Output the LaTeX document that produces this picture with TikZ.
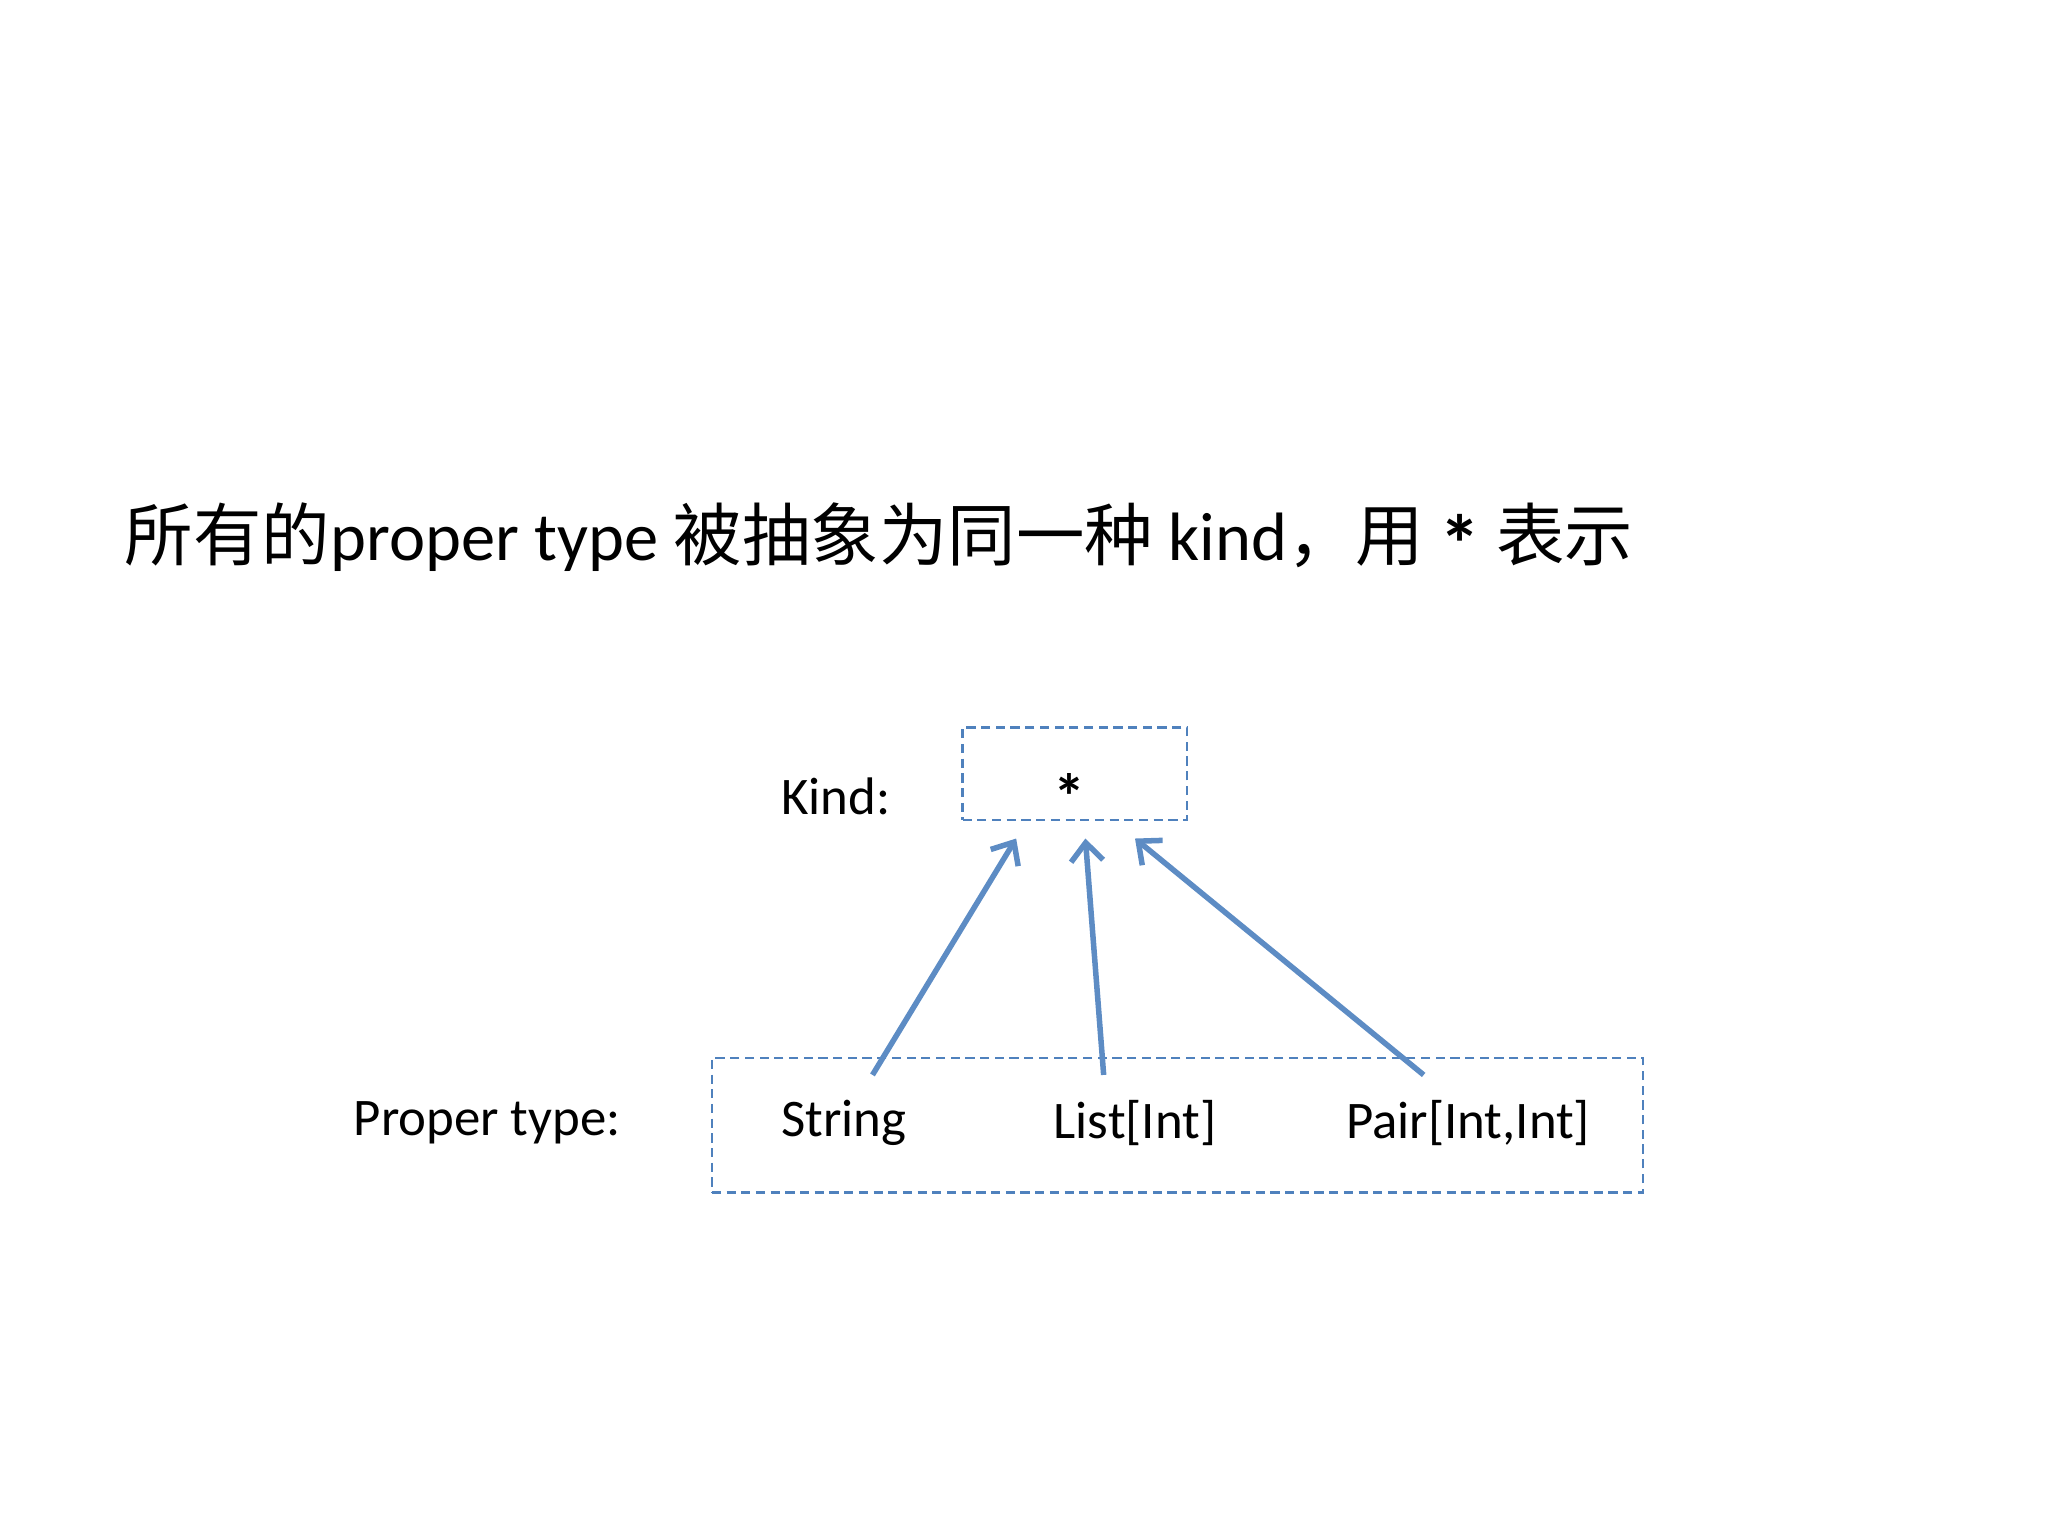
\documentclass[tikz,border=0pt]{standalone}
\usepackage{fontspec}
\setmainfont{Carlito}
\newfontfamily\cjk{Noto Sans CJK SC}
\usetikzlibrary{arrows.meta,fit}
\definecolor{arr}{RGB}{93,140,196}
\definecolor{boxc}{RGB}{79,129,189}
\begin{document}
\begin{tikzpicture}[x=0.01cm,y=-0.01cm,
  dbox/.style={draw=boxc,dash pattern=on 2pt off 1.2pt,line width=0.5pt,inner sep=0pt},
  lbl/.style={font=\fontsize{11.5}{13}\selectfont,inner sep=0pt},
  link/.style={draw=arr,line width=1.2pt,-{Straight Barb[length=4pt,width=7pt]}}]
\useasboundingbox (0,0) rectangle (1568,1176);
\node[anchor=west,inner sep=0pt,font=\fontsize{14.9}{16}\selectfont] (title) at (95,412)
  {{\cjk 所有的}proper type {\cjk 被抽象为同一种} kind{\cjk ，用} {\fontsize{18}{18}\selectfont\bfseries\raisebox{-0.15em}{*}} {\cjk 表示}};
\coordinate (k1) at (737,557); \coordinate (k2) at (909,628);
\node[dbox,fit=(k1)(k2)] (kbox) {};
\node[lbl,font=\fontsize{14}{15}\selectfont\bfseries] (star) at (819,610) {*};
\node[lbl] (kind) at (640,610) {Kind:};
\coordinate (b1) at (545,810); \coordinate (b2) at (1258,913);
\node[dbox,fit=(b1)(b2)] (pbox) {};
\node[lbl] (pt) at (373,860) {Proper type:};
\node[lbl] (s) at (646,860) {String};
\node[lbl] (l) at (869,860) {List[Int]};
\node[lbl] (p) at (1124,860) {Pair[Int,Int]};
\coordinate (s1) at (668,823); \coordinate (s2) at (778,642);
\coordinate (l1) at (845,823); \coordinate (l2) at (831,642);
\coordinate (p1) at (1090,823); \coordinate (p2) at (869,642);
\draw[link] (s1) -- (s2);
\draw[link] (l1) -- (l2);
\draw[link] (p1) -- (p2);
\end{tikzpicture}
\end{document}
